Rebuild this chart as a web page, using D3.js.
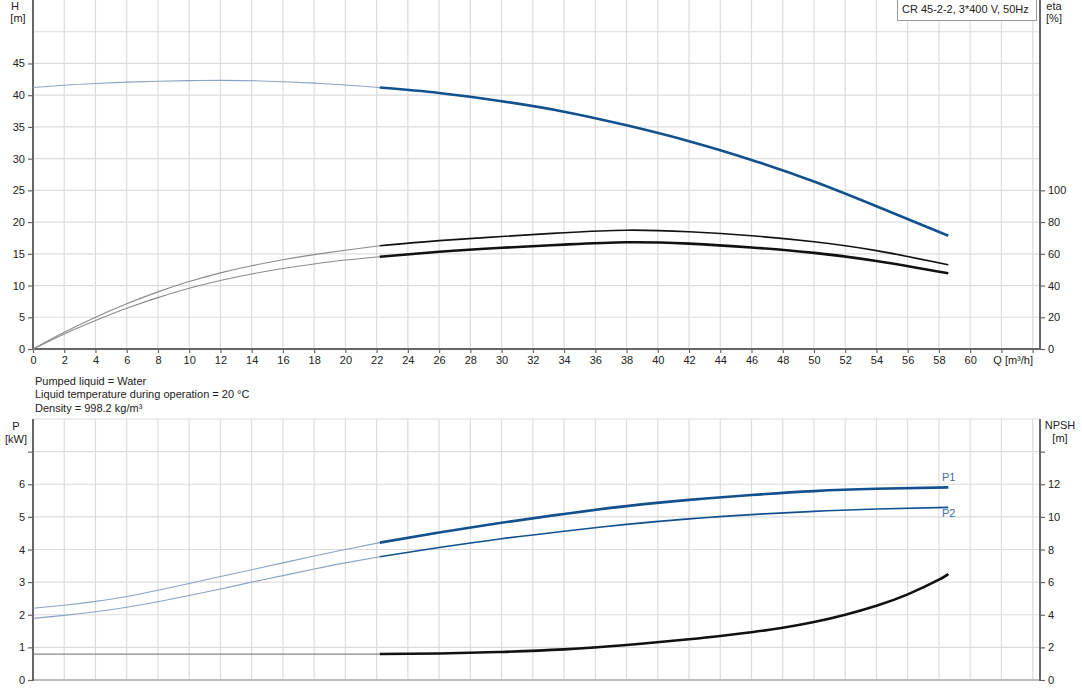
<!DOCTYPE html>
<html><head><meta charset="utf-8">
<script src="https://cdn.jsdelivr.net/npm/d3@7"></script>
<style>
body{margin:0;background:#fff;}
svg{display:block;font-family:"Liberation Sans",Arial,sans-serif;}
</style></head>
<body><svg id="c" width="1082" height="700"></svg>
<script>
// ---- data ----
const qTicks = d3.range(0, 61, 2);
const hTicks = [0,5,10,15,20,25,30,35,40,45];
const etaTicks = [0,20,40,60,80,100];
const pTicks = [0,1,2,3,4,5,6,7];
const pLabels = [0,1,2,3,4,5,6];
const npshTicks = [0,2,4,6,8,10,12,14];
const npshLabels = [0,2,4,6,8,10,12];

const qLow = [0,2,4,6,8,10,12,14,16,18,20,22.2];
const hLow = [41.2,41.57,41.84,42.05,42.2,42.3,42.33,42.28,42.12,41.9,41.6,41.2];
const qHigh = [22.2,26,30,34,38,42,46,50,54,58.6];
const hHigh = [41.2,40.35,39.05,37.4,35.25,32.75,29.8,26.4,22.5,17.85];

const etaQLow = [0,2,4,6,8,10,12,14,16,18,20,22.2];
const eta1Low = [0,10.5,20,28.5,36,42.5,48,52.5,56.3,59.5,62.3,65.1];
const eta2Low = [0,9.5,18,25.7,32.4,38.3,43.2,47.3,50.7,53.6,56.1,58.2];
const etaQHigh = [22.2,26,30,34,38,42,46,50,54,58.6];
const eta1High = [65.1,68.3,70.9,73.3,74.9,73.9,71.4,67.6,62.0,53.1];
const eta2High = [58.2,61.3,63.8,65.8,67.3,66.4,64.0,60.6,55.5,47.7];

const pQLow = [0,2,4,6,8,10,12,14,16,18,20,22.2];
const p1Low = [2.2,2.29,2.41,2.56,2.75,2.96,3.17,3.38,3.59,3.8,4.0,4.21];
const p2Low = [1.89,1.98,2.09,2.23,2.4,2.59,2.79,3.0,3.2,3.4,3.59,3.78];
const pQHigh = [22.2,26,30,34,38,42,46,50,54,58.6];
const p1High = [4.21,4.52,4.82,5.09,5.33,5.52,5.67,5.79,5.86,5.905];
const p2High = [3.78,4.06,4.33,4.56,4.77,4.94,5.07,5.17,5.24,5.29];

const nQLow = [0,10,22.2];
const npshLow = [1.59,1.59,1.59];
const nQHigh = [22.2,26,30,34,38,42,44,46,48,50,52,54,56,58,58.6];
const npshHigh = [1.59,1.62,1.72,1.88,2.15,2.5,2.7,2.93,3.2,3.55,4.0,4.55,5.25,6.15,6.5];

const infoLines = ["Pumped liquid = Water","Liquid temperature during operation = 20 °C","Density = 998.2 kg/m³"];
const legendText = "CR 45-2-2, 3*400 V, 50Hz";

// ---- drawing ----
const svg = d3.select("#c");
const FS = 11;
const x = d3.scaleLinear().domain([0,64.47]).range([33,1040]);
const gridQ = d3.range(0, 65, 2);

const yH = d3.scaleLinear().domain([0,55]).range([349,0]);
const yEta = d3.scaleLinear().domain([0,220]).range([349,0]);
const yP = d3.scaleLinear().domain([0,8]).range([680,419]);
const yN = d3.scaleLinear().domain([0,16]).range([680,419]);

const grid = svg.append("g").attr("stroke","#dcdcdc").attr("stroke-width",1.2);
gridQ.forEach(q=>grid.append("line").attr("x1",x(q)).attr("x2",x(q)).attr("y1",0).attr("y2",349));
d3.range(0,55,5).forEach(v=>grid.append("line").attr("x1",33).attr("x2",1040).attr("y1",yH(v)).attr("y2",yH(v)));
gridQ.forEach(q=>grid.append("line").attr("x1",x(q)).attr("x2",x(q)).attr("y1",419).attr("y2",680));
d3.range(0,9,1).forEach(v=>grid.append("line").attr("x1",33).attr("x2",1040).attr("y1",yP(v)).attr("y2",yP(v)));

function drawLine(qs, vs, sx, sy, color, w){
  const pts = qs.map((q,i)=>[sx(q), sy(vs[i])]);
  svg.append("path").attr("d", d3.line().curve(d3.curveNatural)(pts))
    .attr("fill","none").attr("stroke",color).attr("stroke-width",w)
    .attr("stroke-linecap","butt");
}

const axL = d3.axisLeft(yH).tickValues(hTicks).tickSize(5).tickPadding(3);
const gL = svg.append("g").attr("transform","translate(33,0)").call(axL);
const axR = d3.axisRight(yEta).tickValues(etaTicks).tickSize(5).tickPadding(3);
const gR = svg.append("g").attr("transform","translate(1040,0)").call(axR);
const axB = d3.axisBottom(x).tickValues(gridQ).tickSize(4).tickPadding(3)
   .tickFormat(d=> d<=60 ? d : "");
const gB = svg.append("g").attr("transform","translate(0,349)").call(axB);

const axPL = d3.axisLeft(yP).tickValues(pTicks).tickSize(5).tickPadding(3)
   .tickFormat(d=> pLabels.includes(d)? d : "");
const gPL = svg.append("g").attr("transform","translate(33,0)").call(axPL);
const axNR = d3.axisRight(yN).tickValues(npshTicks).tickSize(5).tickPadding(3)
   .tickFormat(d=> npshLabels.includes(d)? d : "");
const gNR = svg.append("g").attr("transform","translate(1040,0)").call(axNR);

[gL,gR,gB,gPL,gNR].forEach(g=>{
  g.select(".domain").remove();
  g.selectAll(".tick line").attr("stroke","#666").attr("stroke-width",1.2);
  g.selectAll(".tick text").attr("fill","#222").style("font-size",FS+"px").style("font-family","Liberation Sans, Arial, sans-serif");
});

const al = svg.append("g").attr("stroke","#666").attr("stroke-width",2);
al.append("line").attr("x1",33).attr("x2",33).attr("y1",0).attr("y2",350);
al.append("line").attr("x1",1040).attr("x2",1040).attr("y1",0).attr("y2",350);
al.append("line").attr("x1",32).attr("x2",1041).attr("y1",349).attr("y2",349);
al.append("line").attr("x1",33).attr("x2",33).attr("y1",419).attr("y2",681);
al.append("line").attr("x1",1040).attr("x2",1040).attr("y1",419).attr("y2",681);
svg.append("line").attr("x1",34).attr("x2",1039).attr("y1",680).attr("y2",680).attr("stroke","#bbb").attr("stroke-width",2);

svg.append("text").attr("x",1033).attr("y",364).attr("text-anchor","end").style("font-size",FS+"px").attr("fill","#222").text("Q [m³/h]");

function t(xp,yp,txt,anchor){svg.append("text").attr("x",xp).attr("y",yp).attr("text-anchor",anchor||"middle").style("font-size",FS+"px").attr("fill","#222").text(txt);}
t(15,10,"H"); t(18,22,"[m]");
t(1054,10,"eta"); t(1054,22,"[%]");
t(16,430,"P"); t(16,443,"[kW]");
t(1060,429,"NPSH"); t(1060,442,"[m]");

infoLines.forEach((s,i)=>svg.append("text").attr("x",35).attr("y",385+i*13.4).style("font-size",FS+"px").attr("fill","#222").text(s));

drawLine(qLow,hLow,x,yH,"#8aa3c4",1.1);
drawLine(etaQLow,eta1Low,x,yEta,"#8a8a8a",1.1);
drawLine(etaQLow,eta2Low,x,yEta,"#8a8a8a",1.1);
drawLine(qHigh,hHigh,x,yH,"#12508e",2.6);
drawLine(etaQHigh,eta1High,x,yEta,"#111",1.6);
drawLine(etaQHigh,eta2High,x,yEta,"#111",2.6);

drawLine(pQLow,p1Low,x,yP,"#8aa3c4",1.1);
drawLine(pQLow,p2Low,x,yP,"#8aa3c4",1.1);
drawLine(nQLow,npshLow,x,yN,"#8a8a8a",1.3);
drawLine(pQHigh,p1High,x,yP,"#12508e",2.6);
drawLine(pQHigh,p2High,x,yP,"#12508e",1.6);
drawLine(nQHigh,npshHigh,x,yN,"#111",2.6);

svg.append("text").attr("x",942).attr("y",481).style("font-size",FS+"px").attr("fill","#3b6ea5").text("P1");
svg.append("text").attr("x",942).attr("y",517).style("font-size",FS+"px").attr("fill","#3b6ea5").text("P2");

const lg = svg.append("g");
lg.append("rect").attr("x",897.5).attr("y",-1).attr("width",139).attr("height",21.5).attr("fill","#fff").attr("stroke","#999");
lg.append("text").attr("x",902).attr("y",13).style("font-size",FS+"px").attr("fill","#222").text(legendText);
</script>
</body></html>
